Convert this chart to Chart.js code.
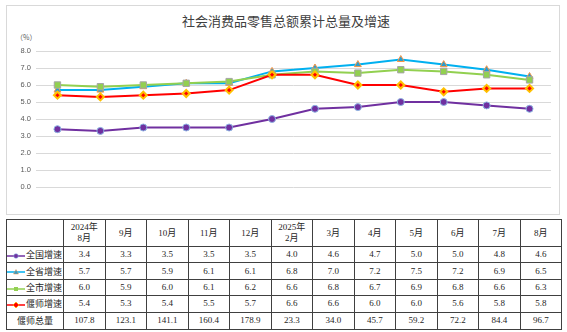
<!DOCTYPE html>
<html><head><meta charset="utf-8">
<script src="https://cdn.jsdelivr.net/npm/chart.js@4/dist/chart.umd.min.js"></script>
<style>
html,body{margin:0;padding:0;background:#fff;width:567px;height:332px;overflow:hidden;}
#frame{position:absolute;left:6px;top:5px;width:554px;height:210px;border:1px solid #d9d9d9;box-sizing:border-box;}
#wrap{position:absolute;left:0;top:0;width:567px;height:218px;}
#title{position:absolute;left:0;width:572px;top:11px;text-align:center;font:13px "Noto Sans CJK SC",sans-serif;color:#404040;}
#unit{position:absolute;left:16px;top:32px;font:7px "Noto Sans CJK SC",sans-serif;color:#595959;}
table{position:absolute;left:6px;top:219px;border-collapse:collapse;table-layout:fixed;width:555px;font-family:"Liberation Serif","Noto Sans CJK SC",serif;font-size:9px;color:#262626;}
td{border:1px solid #404040;text-align:center;padding:0;line-height:11px;}
td.lab{text-align:left;white-space:nowrap;font-family:"Noto Sans CJK SC",sans-serif;font-size:9px;}
td.lab svg{vertical-align:middle;margin-right:1px;}
</style></head>
<body>
<div id="frame"></div>
<div id="title">社会消费品零售总额累计总量及增速</div>
<div id="unit">（%）</div>
<div id="wrap"><canvas id="c" width="567" height="218"></canvas></div>
<table id="tbl"></table>
<script>
const categories = ["2024年\n8月","9月","10月","11月","12月","2025年\n2月","3月","4月","5月","6月","7月","8月"];
const yTicks = [0,1,2,3,4,5,6,7,8];
const nationalGrowth = [3.4,3.3,3.5,3.5,3.5,4.0,4.6,4.7,5.0,5.0,4.8,4.6];
const provinceGrowth = [5.7,5.7,5.9,6.1,6.1,6.8,7.0,7.2,7.5,7.2,6.9,6.5];
const cityGrowth = [6.0,5.9,6.0,6.1,6.2,6.6,6.8,6.7,6.9,6.8,6.6,6.3];
const yanshiGrowth = [5.4,5.3,5.4,5.5,5.7,6.6,6.6,6.0,6.0,5.6,5.8,5.8];
const yanshiTotal = [107.8,123.1,141.1,160.4,178.9,23.3,34.0,45.7,59.2,72.2,84.4,96.7];
const seriesNames = ["全国增速","全省增速","全市增速","偃师增速"];
const totalName = "偃师总量";

const styles = [
  {line:"#7030A0", fill:"#7030A0", border:"#8DB4E2", bw:1, style:"circle", r:3.5, order:3},
  {line:"#00B0F0", fill:"#2E9CCB", border:"#F79646", bw:1, style:"triangle", r:4, order:2},
  {line:"#92D050", fill:"#92D050", border:"#A6A6A6", bw:1, style:"rect", r:4.5, order:1},
  {line:"#FF0000", fill:"#FF0000", border:"#FFC000", bw:2, style:"rectRot", r:3.5, order:0}
];
const seriesData = [nationalGrowth, provinceGrowth, cityGrowth, yanshiGrowth];

new Chart(document.getElementById('c'), {
  type:'line',
  data:{
    labels: categories,
    datasets: seriesData.map((d,i)=>({
      label: seriesNames[i], data: d,
      borderColor: styles[i].line, borderWidth: 2,
      pointStyle: styles[i].style, pointRadius: styles[i].r,
      pointBackgroundColor: styles[i].fill, pointBorderColor: styles[i].border,
      pointBorderWidth: styles[i].bw, tension: 0, order: styles[i].order
    }))
  },
  options:{
    responsive:false, animation:false,
    layout:{padding:{left:0,top:51,right:16,bottom:31}},
    plugins:{legend:{display:false},tooltip:{enabled:false},title:{display:false}},
    scales:{
      x:{display:false, offset:true},
      y:{min:0,max:8,
        afterFit:(s)=>{s.width=36;},
        afterBuildTicks:(s)=>{s.ticks=yTicks.map(v=>({value:v}));},
        border:{display:false},
        grid:{color:"#d9d9d9",lineWidth:1,drawTicks:false},
        ticks:{padding:5,color:"#595959",font:{size:7.5,family:"Liberation Sans"},callback:(v)=>Number(v).toFixed(1)}
      }
    }
  }
});

function markerSvg(i){
  const s=styles[i];
  let m="";
  if(s.style==="circle") m=`<circle cx="9" cy="4" r="2.3" fill="${s.fill}" stroke="${s.border}" stroke-width="0.6"/>`;
  if(s.style==="triangle") m=`<polygon points="9,1.5 11.5,6 6.5,6" fill="${s.fill}" stroke="${s.border}" stroke-width="0.5"/>`;
  if(s.style==="rect") m=`<rect x="7" y="2" width="4" height="4" fill="${s.fill}"/>`;
  if(s.style==="rectRot") m=`<polygon points="9,1 12,4 9,7 6,4" fill="${s.fill}" stroke="${s.border}" stroke-width="0.7"/>`;
  return `<svg width="18" height="8"><line x1="0" y1="4" x2="18" y2="4" stroke="${s.line}" stroke-width="1.5"/>${m}</svg>`;
}
let html = `<colgroup><col style="width:57px">${categories.map(()=>'<col style="width:41.5px">').join('')}</colgroup>`;
html += `<tr style="height:27px"><td></td>${categories.map(c=>`<td>${c.replace("\n","<br>")}</td>`).join('')}</tr>`;
seriesData.forEach((d,i)=>{
  html += `<tr style="height:16.4px"><td class="lab">${markerSvg(i)}${seriesNames[i]}</td>${d.map(v=>`<td>${v.toFixed(1)}</td>`).join('')}</tr>`;
});
html += `<tr style="height:17px"><td style="font-family:'Noto Sans CJK SC',sans-serif">${totalName}</td>${yanshiTotal.map(v=>`<td>${v.toFixed(1)}</td>`).join('')}</tr>`;
document.getElementById('tbl').innerHTML = html;
</script>
</body></html>
